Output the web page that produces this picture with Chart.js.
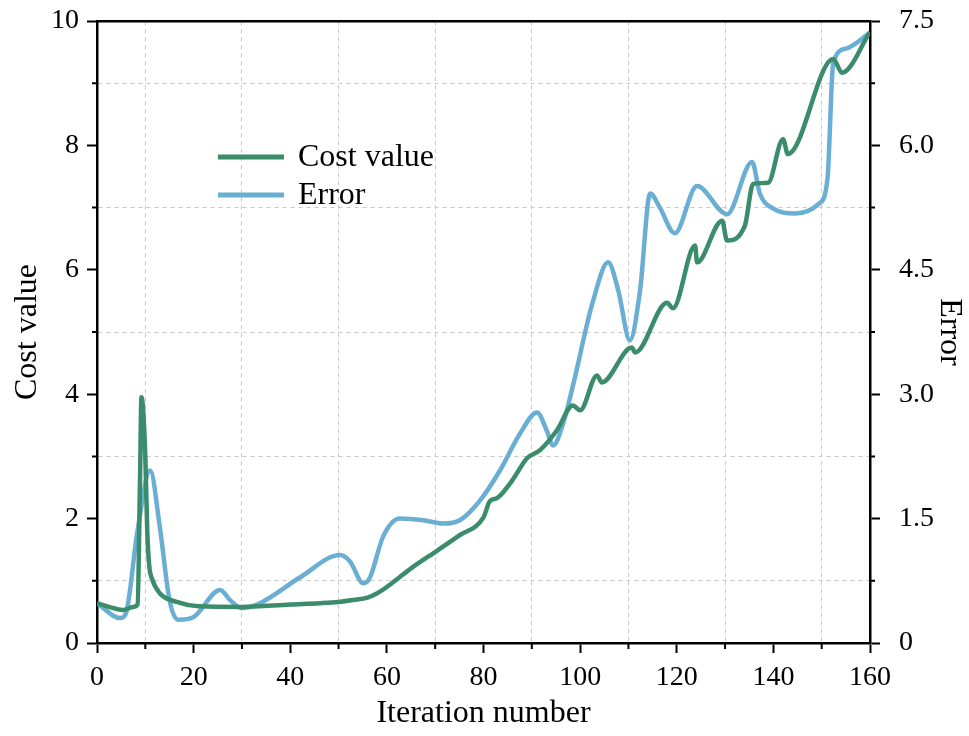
<!DOCTYPE html>
<html>
<head>
<meta charset="utf-8">
<script src="https://cdn.jsdelivr.net/npm/chart.js@4/dist/chart.umd.min.js"></script>
<style>
  html, body { margin:0; padding:0; background:#fff; }
  canvas { display:block; }
</style>
</head>
<body>
<canvas id="chart" width="969" height="736"></canvas>
<script>
// ── Data ─────────────────────────────────────────────────────
const costIter = [0, 2.5, 5.4, 7.5, 8.4, 8.9, 9.2, 9.5, 10.0, 10.4, 10.8, 11.4, 13, 16.5, 21, 30, 40, 46, 50, 53, 56, 58, 60, 62.5, 65, 70.5, 75, 80, 81.3, 82.8, 86, 89, 91.7, 95.2, 98.5, 100, 103.5, 104.5, 110.7, 111.4, 118, 119.2, 123.8, 124.2, 129.4, 130.4, 134.1, 135.8, 138.9, 142, 143, 152.4, 154.2, 160];
const costVal  = [0.64, 0.58, 0.53, 0.58, 0.62, 2.6, 3.95, 3.8, 3.0, 1.8, 1.25, 1.03, 0.8, 0.66, 0.59, 0.58, 0.62, 0.64, 0.66, 0.69, 0.73, 0.8, 0.9, 1.05, 1.2, 1.49, 1.73, 2.02, 2.28, 2.33, 2.62, 2.97, 3.1, 3.42, 3.82, 3.74, 4.3, 4.19, 4.75, 4.67, 5.47, 5.38, 6.39, 6.12, 6.79, 6.47, 6.71, 7.38, 7.40, 8.1, 7.86, 9.39, 9.17, 9.82];

const errIter = [0, 4.8, 6, 8.3, 11, 13, 15, 16.8, 19.9, 25.5, 27.5, 30, 33.7, 42, 50.3, 52.4, 55.1, 56.5, 59.2, 62.7, 67.5, 71.6, 75.1, 79.3, 83.4, 87.6, 91.1, 93.1, 94.4, 96.5, 98.5, 102.7, 105.8, 107.9, 110.3, 112.4, 114.5, 116.5, 119.6, 124.2, 130.4, 135.6, 137.2, 139.9, 144.5, 149.5, 151.2, 152.4, 155.2, 160];
const errVal  = [0.48, 0.30, 0.36, 1.32, 2.08, 1.40, 0.52, 0.28, 0.31, 0.64, 0.52, 0.42, 0.48, 0.79, 1.06, 0.98, 0.72, 0.79, 1.28, 1.5, 1.48, 1.44, 1.48, 1.72, 2.08, 2.53, 2.78, 2.56, 2.38, 2.65, 3.1, 4.13, 4.59, 4.25, 3.65, 4.25, 5.42, 5.25, 4.94, 5.51, 5.17, 5.80, 5.42, 5.24, 5.18, 5.30, 5.6, 7.0, 7.17, 7.36];

const SERIES_NAMES = ['Cost value', 'Error'];
const GREEN = '#3b8c6b';
const BLUE  = '#6aaed4';
const FONT  = "'Liberation Serif', 'Times New Roman', serif";

const pts = (xs, ys) => xs.map((x, i) => ({ x, y: ys[i] }));

// ── Small helpers ────────────────────────────────────────────
const near = (a, b) => Math.abs(a - b) < 1e-6;
const isMajor = (v, step) => near(Math.round(v / step) * step, v);

// fixed axis box sizes, no extra room for overhanging labels
const fixSize = (w, h) => s => {
  if (w !== null) s.width = w;
  if (h !== null) s.height = h;
  s.paddingTop = s.paddingBottom = s.paddingLeft = s.paddingRight = 0;
};

// minor tick marks (shorter than major ones)
const minorTicks = {
  id: 'minorTicks',
  afterDraw(chart) {
    const { ctx, chartArea: ca, scales } = chart;
    ctx.save();
    ctx.strokeStyle = '#000';
    ctx.lineWidth = 2;
    ctx.beginPath();
    for (let v = 10; v < 160; v += 20) {
      const px = scales.x.getPixelForValue(v);
      ctx.moveTo(px, ca.bottom); ctx.lineTo(px, ca.bottom + 6);
    }
    for (let v = 1; v < 10; v += 2) {
      const py = scales.y.getPixelForValue(v);
      ctx.moveTo(ca.left - 5, py); ctx.lineTo(ca.left, py);
    }
    for (let k = 1; k < 10; k += 2) {
      const py = scales.y2.getPixelForValue(k * 0.75);
      ctx.moveTo(ca.right, py); ctx.lineTo(ca.right + 5, py);
    }
    ctx.stroke();
    ctx.restore();
  }
};

// legend inside the plot area
const innerLegend = {
  id: 'innerLegend',
  afterDraw(chart) {
    const { ctx } = chart;
    ctx.save();
    ctx.font = `32px ${FONT}`;
    ctx.textBaseline = 'middle';
    ctx.fillStyle = '#000';
    chart.data.datasets.forEach((ds, i) => {
      const y = 157 + i * 38;
      ctx.strokeStyle = ds.borderColor;
      ctx.lineWidth = 5;
      ctx.beginPath(); ctx.moveTo(218, y); ctx.lineTo(284, y); ctx.stroke();
      ctx.fillText(ds.label, 298, y + 1);
    });
    ctx.restore();
  }
};

const tickFont  = { family: FONT, size: 28 };
const titleFont = { family: FONT, size: 32 };
const DASH_GREY = '#c9c9c9';

new Chart(document.getElementById('chart'), {
  type: 'line',
  data: {
    datasets: [
      { label: SERIES_NAMES[0], data: pts(costIter, costVal), yAxisID: 'y',
        borderColor: GREEN, borderWidth: 4.5, pointRadius: 0, cubicInterpolationMode: 'monotone' },
      { label: SERIES_NAMES[1], data: pts(errIter, errVal), yAxisID: 'y2',
        borderColor: BLUE, borderWidth: 4.5, pointRadius: 0, cubicInterpolationMode: 'monotone' },
    ]
  },
  options: {
    responsive: false,
    animation: false,
    layout: { padding: 0 },
    plugins: { legend: { display: false }, tooltip: { enabled: false } },
    scales: {
      x: {
        type: 'linear', position: 'bottom', min: 0, max: 160,
        afterFit: fixSize(null, 93),
        ticks: { stepSize: 10, autoSkip: false, maxRotation: 0, color: '#000', font: tickFont, padding: 8,
                 callback: v => isMajor(v, 20) ? v : '' },
        grid: { color: c => (c.tick && !isMajor(c.tick.value, 20)) ? DASH_GREY : 'transparent',
                lineWidth: 1, tickLength: 10, tickWidth: 2,
                tickColor: c => (c.tick && isMajor(c.tick.value, 20)) ? '#000' : 'transparent' },
        border: { display: true, color: '#000', width: 2.5, dash: [4, 4] },
        title: { display: true, text: 'Iteration number', color: '#000', font: titleFont, padding: { bottom: 3 } }
      },
      x2: {
        type: 'linear', position: 'top', min: 0, max: 160,
        afterFit: fixSize(null, 21),
        ticks: { display: false },
        grid: { display: false },
        border: { display: true, color: '#000', width: 2.5 }
      },
      y: {
        type: 'linear', position: 'left', min: 0, max: 10,
        afterFit: fixSize(97, null),
        ticks: { stepSize: 1, autoSkip: false, color: '#000', font: tickFont, padding: 8,
                 callback: v => isMajor(v, 2) ? v : '' },
        grid: { color: c => (c.tick && !isMajor(c.tick.value, 2)) ? DASH_GREY : 'transparent',
                lineWidth: 1, tickLength: 10, tickWidth: 2,
                tickColor: c => (c.tick && isMajor(c.tick.value, 2)) ? '#000' : 'transparent' },
        border: { display: true, color: '#000', width: 2.5, dash: [4, 4] },
        title: { display: true, text: 'Cost value', color: '#000', font: titleFont, padding: { top: 8 } }
      },
      y2: {
        type: 'linear', position: 'right', min: 0, max: 7.5,
        afterFit: fixSize(99, null),
        ticks: { stepSize: 0.75, autoSkip: false, color: '#000', font: tickFont, padding: 19,
                 callback: v => isMajor(v, 1.5) ? (near(v, 0) ? '0' : v.toFixed(1)) : '' },
        grid: { drawOnChartArea: false, tickLength: 10, tickWidth: 2,
                tickColor: c => (c.tick && isMajor(c.tick.value, 1.5)) ? '#000' : 'transparent' },
        border: { display: true, color: '#000', width: 2.5 },
        title: { display: true, text: 'Error', color: '#000', font: titleFont, padding: { top: 0 } }
      }
    }
  },
  plugins: [minorTicks, innerLegend]
});
</script>
</body>
</html>
